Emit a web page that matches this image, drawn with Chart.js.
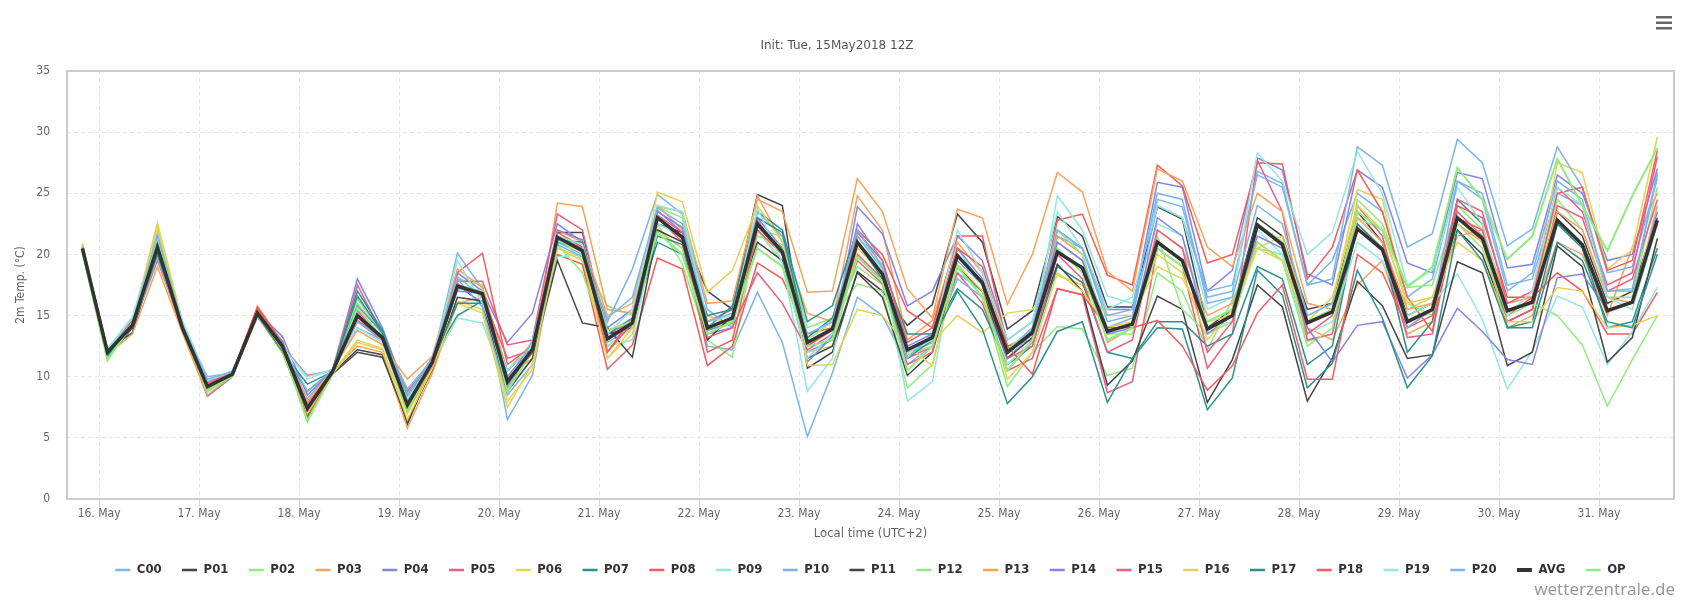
<!DOCTYPE html>
<html>
<head>
<meta charset="utf-8">
<title>2m Temp. ensemble</title>
<script src="https://cdn.jsdelivr.net/npm/chart.js@4.4.1/dist/chart.umd.min.js"></script>
<style>
  html, body { margin: 0; padding: 0; background: #fff; }
  #wrap { width: 1684px; height: 600px; position: relative; }
</style>
</head>
<body>
<div id="wrap"><canvas id="tempChart"></canvas></div>
<script>
// hours after 16 May 00:00 local time (UTC+2), one value every 6 h
const hours = [-4, 2, 8, 14, 20, 26, 32, 38, 44, 50, 56, 62, 68, 74, 80, 86, 92, 98, 104, 110,
  116, 122, 128, 134, 140, 146, 152, 158, 164, 170, 176, 182, 188, 194, 200, 206, 212, 218, 224, 230,
  236, 242, 248, 254, 260, 266, 272, 278, 284, 290, 296, 302, 308, 314, 320, 326, 332, 338, 344, 350,
  356, 362, 368, 374];

const dayTicks = [0, 24, 48, 72, 96, 120, 144, 168, 192, 216, 240, 264, 288, 312, 336, 360];
const dayLabels = ['16. May', '17. May', '18. May', '19. May', '20. May', '21. May', '22. May', '23. May',
  '24. May', '25. May', '26. May', '27. May', '28. May', '29. May', '30. May', '31. May'];

const c00 = [20.6, 12.1, 14.5, 21.5, 14.2, 10.0, 10.3, 15.0, 12.6, 8.2, 10.6, 14.0, 13.0, 8.0, 11.3,
  20.1, 17.2, 6.5, 10.1, 21.0, 20.0, 12.8, 14.0, 22.0, 20.5,
  12.5, 12.2, 16.9, 12.8, 5.1, 10.3, 16.5, 15.0, 11.0, 12.5,
  18.5, 17.0, 10.5, 12.8, 21.5, 20.5, 14.5, 15.0, 24.5, 23.9,
  16.5, 17.0, 26.8, 25.8, 17.5, 19.5, 25.0, 23.5, 16.5, 18.0,
  26.0, 25.0, 17.5, 18.0, 25.0, 24.0, 17.0, 17.2, 26.7];
const p01 = [20.8, 12.2, 13.6, 20.2, 13.8, 9.0, 10.1, 15.0, 12.0, 6.8, 10.3, 12.2, 11.8, 6.1, 11.0,
  17.5, 16.0, 9.2, 12.4, 21.8, 21.8, 13.5, 14.0, 22.5, 21.8,
  17.0, 15.5, 24.9, 24.0, 10.7, 12.0, 18.6, 17.0, 14.2, 15.9,
  23.3, 21.0, 13.9, 15.4, 23.1, 21.5, 15.7, 15.7, 23.9, 22.9,
  14.0, 15.5, 23.0, 21.5, 15.5, 16.0, 23.5, 21.0, 15.0, 16.0,
  22.0, 20.0, 14.5, 15.5, 23.5, 21.5, 16.0, 17.0, 23.0];
const p02 = [20.3, 11.3, 14.4, 21.8, 14.3, 8.8, 10.2, 15.5, 12.4, 6.3, 10.2, 16.0, 13.5, 7.0, 11.5,
  18.0, 17.5, 9.0, 12.0, 21.5, 19.5, 15.8, 15.0, 22.5, 19.2,
  13.0, 11.6, 22.0, 21.5, 14.0, 14.8, 17.6, 17.0, 9.1, 11.0,
  19.0, 16.5, 9.2, 12.0, 14.1, 13.9, 10.1, 10.7, 18.5, 17.0,
  12.2, 16.3, 20.5, 20.0, 12.9, 13.5, 24.5, 22.5, 17.3, 17.5,
  24.0, 22.0, 16.0, 16.5, 24.5, 22.0, 16.5, 16.5, 25.5];
const p03 = [20.4, 11.8, 13.5, 19.0, 13.6, 8.4, 10.0, 15.8, 12.8, 7.0, 10.4, 12.5, 12.0, 5.8, 10.3,
  16.0, 16.5, 10.0, 11.5, 24.2, 23.9, 15.5, 15.2, 24.0, 22.0,
  13.5, 14.5, 24.8, 21.0, 15.2, 14.5, 24.8, 22.0, 13.0, 14.6,
  21.0, 18.5, 12.5, 13.5, 21.5, 20.0, 12.8, 14.0, 22.0, 20.5,
  15.0, 16.0, 21.0, 19.5, 14.0, 13.0, 17.5, 19.5, 13.5, 14.5,
  22.5, 21.0, 14.0, 15.0, 21.0, 20.0, 15.0, 20.6, 25.0];
const p04 = [20.5, 12.0, 14.0, 19.5, 14.0, 8.4, 10.0, 15.3, 13.3, 8.5, 10.5, 18.0, 14.0, 8.5, 11.6,
  18.5, 17.0, 12.8, 15.2, 22.5, 21.0, 14.0, 15.5, 23.5, 22.2,
  13.5, 14.0, 23.0, 20.5, 12.0, 13.0, 23.9, 21.7, 15.8, 17.0,
  21.5, 19.5, 13.0, 14.5, 22.0, 20.5, 15.5, 15.5, 25.9, 25.5,
  17.0, 18.7, 27.9, 26.9, 18.4, 17.5, 26.9, 25.5, 19.3, 18.5,
  26.7, 26.2, 18.9, 19.2, 26.5, 25.0, 19.5, 20.0, 27.0];
const p05 = [20.6, 12.3, 14.6, 21.0, 14.4, 9.5, 10.3, 15.4, 12.5, 10.1, 10.5, 17.5, 13.5, 7.5, 11.2,
  17.8, 17.8, 12.6, 13.0, 23.3, 22.0, 13.5, 14.5, 23.0, 21.0,
  14.5, 15.5, 22.8, 20.0, 12.5, 14.0, 20.0, 18.0, 11.5, 12.5,
  18.5, 16.0, 10.5, 11.5, 17.2, 16.7, 8.7, 9.6, 20.5, 19.0,
  10.7, 13.5, 27.7, 23.5, 13.0, 13.5, 22.5, 20.5, 13.2, 13.5,
  23.5, 21.5, 14.5, 15.5, 24.0, 23.0, 17.0, 18.0, 24.5];
const p06 = [20.9, 12.0, 14.4, 22.6, 14.5, 9.4, 10.2, 15.0, 12.2, 7.2, 10.3, 13.0, 12.3, 7.0, 10.8,
  16.2, 15.5, 8.0, 10.6, 20.5, 19.5, 11.5, 13.5, 22.0, 20.5,
  15.0, 14.2, 22.0, 19.5, 12.0, 12.5, 20.5, 18.5, 11.8, 12.8,
  15.0, 13.6, 15.2, 15.5, 18.3, 17.5, 15.0, 15.0, 19.0, 18.0,
  14.5, 15.0, 20.5, 21.5, 15.0, 16.0, 25.3, 24.5, 15.5, 16.5,
  23.0, 21.0, 15.5, 16.0, 27.5, 26.7, 18.8, 20.4, 29.6];
const p07 = [20.2, 11.6, 14.0, 20.0, 13.8, 9.3, 10.4, 15.0, 12.0, 9.4, 10.4, 17.0, 13.8, 8.2, 11.5,
  15.0, 16.2, 9.5, 12.0, 21.0, 20.5, 13.0, 14.5, 21.0, 20.0,
  14.0, 15.8, 23.5, 22.0, 14.5, 15.8, 22.0, 19.0, 13.5, 13.5,
  17.2, 15.5, 11.0, 12.5, 19.0, 17.7, 12.0, 11.5, 14.5, 14.5,
  12.5, 13.5, 19.0, 18.0, 11.0, 12.5, 22.5, 20.5, 12.0, 14.5,
  24.5, 22.5, 14.0, 14.5, 22.5, 20.5, 14.0, 14.5, 20.5];
const p08 = [20.5, 12.1, 14.6, 21.2, 14.0, 9.6, 10.3, 15.7, 12.8, 7.8, 10.5, 14.5, 13.0, 8.8, 11.3,
  18.5, 20.1, 11.0, 12.5, 20.0, 19.2, 10.6, 12.6, 19.7, 18.8,
  10.9, 12.5, 19.3, 18.0, 13.5, 14.0, 22.0, 20.0, 15.4, 14.0,
  21.5, 21.5, 12.5, 13.0, 22.8, 23.3, 18.3, 17.5, 27.3, 25.6,
  19.3, 20.0, 27.5, 27.4, 18.0, 20.6, 26.9, 23.5, 16.5, 13.7,
  24.0, 23.0, 16.5, 16.5, 18.5, 17.0, 13.5, 13.5, 16.9];
const p09 = [20.4, 12.3, 14.9, 21.7, 14.6, 9.8, 10.4, 15.2, 12.4, 10.0, 10.6, 14.0, 12.8, 7.2, 11.0,
  14.8, 14.4, 9.0, 11.5, 19.8, 20.0, 12.5, 13.0, 22.5, 21.5,
  13.8, 14.5, 22.0, 19.3, 8.8, 11.5, 21.5, 19.2, 8.0, 9.6,
  20.5, 17.5, 11.0, 13.0, 24.8, 22.0, 16.6, 16.0, 22.5, 21.5,
  14.0, 14.5, 22.0, 20.0, 13.5, 14.5, 21.0, 19.5, 15.0, 16.0,
  18.4, 14.7, 9.0, 12.1, 16.6, 15.7, 11.0, 13.7, 17.3];
const p10 = [20.7, 11.9, 14.3, 20.8, 14.1, 9.6, 10.5, 14.9, 12.6, 7.0, 10.3, 15.2, 13.2, 9.0, 11.4,
  18.0, 15.7, 8.5, 11.0, 21.0, 20.5, 14.5, 18.8, 24.9, 23.3,
  15.5, 14.0, 23.5, 21.5, 12.5, 13.0, 21.5, 18.8, 12.0, 12.8,
  18.0, 16.5, 11.5, 13.5, 21.0, 19.5, 14.0, 14.8, 24.0, 23.0,
  17.0, 17.5, 26.5, 25.5, 17.5, 18.0, 28.8, 27.3, 20.6, 21.7,
  29.4, 27.5, 20.7, 22.1, 28.8, 25.5, 18.5, 19.0, 26.2];
const p11 = [20.6, 11.8, 14.0, 20.4, 13.8, 9.0, 10.1, 14.9, 12.2, 6.6, 10.2, 12.0, 11.6, 6.4, 10.6,
  16.5, 16.2, 8.8, 11.5, 19.5, 14.4, 14.0, 11.6, 22.0, 21.0,
  13.0, 15.0, 21.0, 19.5, 11.5, 12.5, 18.5, 16.5, 10.1, 12.0,
  19.0, 17.0, 11.5, 13.2, 19.2, 17.0, 9.3, 11.3, 16.6, 15.5,
  7.9, 11.4, 17.5, 15.7, 8.0, 11.5, 17.8, 15.8, 11.5, 11.8,
  19.4, 18.5, 10.9, 12.0, 20.7, 19.0, 11.2, 13.2, 21.3];
const p12 = [20.3, 11.5, 14.2, 20.6, 14.2, 9.0, 10.0, 15.3, 12.3, 6.5, 10.3, 16.4, 13.4, 7.5, 11.4,
  17.5, 17.0, 9.8, 12.2, 20.8, 18.5, 12.5, 14.0, 23.9, 23.0,
  14.2, 14.6, 21.5, 20.8, 13.0, 14.5, 19.0, 17.5, 11.8, 12.5,
  20.0, 17.8, 12.2, 14.0, 22.0, 20.0, 13.5, 13.5, 21.5, 15.5,
  13.5, 14.5, 21.0, 19.5, 12.5, 14.0, 23.0, 22.0, 16.0, 15.0,
  22.5, 20.5, 15.0, 16.0, 15.0, 12.6, 7.6, 11.4, 15.0];
const p13 = [20.5, 12.0, 14.1, 19.8, 13.7, 8.5, 10.1, 15.4, 12.7, 8.0, 10.6, 13.8, 12.6, 9.8, 11.7,
  18.8, 17.3, 10.5, 12.8, 22.0, 21.0, 15.0, 16.0, 23.9, 23.5,
  16.0, 16.2, 24.5, 23.5, 16.9, 17.0, 26.2, 23.5, 17.2, 14.8,
  23.7, 23.0, 15.9, 20.0, 26.7, 25.1, 18.6, 17.0, 27.0, 26.0,
  20.6, 19.0, 25.0, 23.5, 16.0, 15.5, 23.0, 21.0, 15.5, 16.0,
  21.5, 22.0, 16.0, 16.5, 23.5, 22.0, 16.5, 16.0, 24.0];
const p14 = [20.4, 11.9, 14.2, 20.2, 14.0, 9.2, 10.2, 15.1, 12.9, 7.6, 10.4, 15.8, 13.6, 7.8, 11.4,
  17.0, 16.8, 10.0, 12.5, 22.0, 21.2, 13.0, 14.2, 23.6, 21.8,
  13.8, 14.4, 22.3, 20.2, 11.2, 13.3, 22.5, 19.5, 12.5, 13.5,
  20.5, 18.0, 12.0, 13.8, 21.0, 19.5, 13.5, 14.0, 23.0, 21.5,
  13.5, 15.0, 21.5, 20.5, 14.0, 11.2, 14.2, 14.5, 9.9, 11.8,
  15.6, 13.7, 11.4, 11.0, 18.1, 18.4, 15.5, 16.0, 23.5];
const p15 = [20.6, 12.2, 14.4, 21.4, 14.3, 9.4, 10.3, 15.2, 12.6, 7.2, 10.4, 14.6, 13.2, 7.4, 11.1,
  17.6, 16.6, 11.5, 12.2, 21.5, 20.5, 12.0, 14.4, 23.2, 21.8,
  13.2, 14.0, 18.5, 16.0, 12.2, 13.5, 19.5, 17.6, 11.0, 12.0,
  20.0, 17.5, 11.5, 12.5, 20.0, 18.0, 12.0, 13.0, 22.0, 20.5,
  12.0, 14.5, 22.5, 21.0, 13.5, 15.0, 24.0, 21.5, 14.0, 15.5,
  24.5, 23.5, 16.0, 17.0, 25.5, 23.5, 17.5, 18.5, 28.0];
const p16 = [20.7, 12.0, 14.3, 22.2, 14.4, 9.1, 10.0, 14.9, 12.0, 7.0, 10.2, 12.8, 12.2, 6.5, 10.7,
  16.0, 15.2, 7.5, 11.0, 20.5, 19.8, 11.5, 14.0, 25.1, 24.3,
  16.9, 18.7, 24.0, 21.0, 10.9, 11.0, 15.5, 15.0, 12.5, 10.9,
  19.2, 17.0, 9.8, 12.0, 18.5, 17.0, 14.0, 14.5, 20.0, 18.5,
  13.0, 15.5, 20.5, 19.5, 14.5, 16.5, 24.0, 22.0, 16.0, 16.5,
  21.0, 19.5, 14.5, 14.5, 17.3, 17.0, 14.0, 14.2, 15.0];
const p17 = [20.3, 11.7, 14.1, 20.0, 13.9, 9.1, 10.2, 15.0, 12.1, 8.8, 10.5, 16.6, 13.6, 7.6, 11.2,
  16.0, 16.0, 10.5, 12.4, 21.2, 21.0, 13.5, 14.8, 21.5, 20.8,
  15.0, 15.5, 23.0, 21.8, 13.2, 14.8, 21.0, 18.0, 11.5, 13.0,
  17.0, 13.9, 7.8, 10.0, 13.7, 14.5, 7.9, 11.5, 14.0, 13.9,
  7.3, 9.9, 18.7, 16.7, 9.1, 11.1, 18.7, 14.8, 9.1, 11.7,
  22.0, 19.5, 14.0, 14.0, 21.0, 19.5, 14.5, 14.0, 20.0];
const p18 = [20.4, 12.0, 14.3, 20.8, 14.1, 9.3, 10.3, 15.6, 12.7, 6.6, 10.4, 15.4, 13.2, 7.2, 11.0,
  17.2, 17.0, 9.2, 12.0, 21.8, 20.6, 12.0, 14.8, 23.0, 21.5,
  12.0, 13.0, 22.0, 20.0, 12.5, 13.8, 21.8, 19.5, 12.8, 14.0,
  20.5, 19.0, 12.5, 10.2, 17.2, 16.7, 14.0, 14.0, 14.6, 12.5,
  8.9, 10.9, 15.2, 17.5, 9.8, 9.8, 20.0, 18.5, 14.0, 15.0,
  23.0, 22.0, 15.0, 16.5, 25.0, 25.5, 18.7, 19.5, 28.5];
const p19 = [20.5, 12.2, 14.8, 21.2, 14.5, 9.7, 10.4, 15.1, 12.5, 9.8, 10.6, 15.0, 13.0, 8.2, 11.3,
  19.5, 16.0, 10.5, 12.5, 21.5, 20.8, 13.5, 15.5, 24.0, 23.5,
  14.5, 15.0, 23.8, 19.3, 11.5, 13.5, 21.0, 18.8, 12.0, 13.0,
  22.0, 18.5, 13.0, 14.5, 23.5, 20.5, 15.5, 16.5, 24.0, 23.0,
  15.5, 16.5, 28.3, 26.0, 20.0, 21.8, 28.4, 25.0, 17.5, 18.7,
  25.5, 22.5, 15.0, 17.0, 25.5, 24.0, 16.5, 15.5, 22.5];
const p20 = [20.6, 12.1, 14.4, 21.6, 14.2, 9.8, 10.4, 15.0, 12.4, 8.8, 10.5, 14.5, 13.1, 8.6, 11.5,
  18.2, 16.5, 9.0, 13.0, 20.8, 19.8, 14.8, 16.5, 23.8, 22.5,
  14.5, 15.2, 22.5, 20.0, 13.5, 14.5, 22.0, 19.0, 11.5, 13.5,
  19.5, 17.5, 12.0, 14.0, 22.0, 20.5, 15.0, 15.5, 25.0, 24.5,
  16.0, 16.5, 24.0, 22.5, 15.0, 16.0, 22.0, 20.5, 14.0, 15.5,
  26.0, 24.5, 17.0, 18.5, 26.0, 24.5, 17.0, 17.0, 26.5];
const avg = [20.5, 12.0, 14.2, 20.6, 14.0, 9.2, 10.2, 15.2, 12.5, 7.4, 10.4, 15.0, 13.2, 7.7, 11.2,
  17.4, 16.8, 9.6, 12.2, 21.4, 20.3, 13.1, 14.4, 23.0, 21.4,
  14.0, 14.8, 22.5, 20.2, 12.8, 13.9, 21.0, 18.4, 12.2, 13.2,
  19.9, 17.7, 12.0, 13.6, 20.2, 18.9, 13.7, 14.3, 21.0, 19.5,
  13.9, 15.0, 22.4, 20.8, 14.4, 15.3, 22.1, 20.4, 14.5, 15.5,
  23.0, 21.3, 15.4, 16.1, 22.8, 20.8, 15.4, 16.1, 22.8];
const op = [20.2, 11.4, 14.3, 21.0, 14.0, 8.8, 10.1, 15.2, 12.3, 6.4, 10.2, 15.6, 13.2, 7.2, 11.2,
  17.2, 17.0, 8.8, 12.2, 21.2, 20.2, 13.8, 14.5, 21.8, 20.0,
  13.5, 14.5, 20.5, 19.0, 12.5, 13.0, 19.8, 17.8, 10.5, 12.5,
  19.0, 16.5, 10.5, 13.0, 20.5, 18.5, 13.0, 14.0, 20.5, 19.0,
  14.5, 15.5, 22.5, 21.0, 14.5, 15.5, 23.5, 22.0, 17.3, 19.0,
  27.1, 24.5, 19.6, 21.5, 27.8, 24.0, 20.3, 24.8, 28.7];

const seriesNames = ['C00', 'P01', 'P02', 'P03', 'P04', 'P05', 'P06', 'P07', 'P08', 'P09', 'P10',
  'P11', 'P12', 'P13', 'P14', 'P15', 'P16', 'P17', 'P18', 'P19', 'P20', 'AVG', 'OP'];
const seriesValues = [c00, p01, p02, p03, p04, p05, p06, p07, p08, p09, p10,
  p11, p12, p13, p14, p15, p16, p17, p18, p19, p20, avg, op];

const palette = ['#7cb5ec', '#434348', '#90ed7d', '#f7a35c', '#8085e9',
  '#f15c80', '#e4d354', '#2b908f', '#f45b5b', '#91e8e1'];

const condensed = '"DejaVu Sans Condensed", "DejaVu Sans", sans-serif';

const datasets = seriesNames.map((name, i) => {
  const isAvg = name === 'AVG';
  const isOp = name === 'OP';
  const color = isAvg ? '#333333' : (isOp ? '#90ed7d' : palette[i % 10]);
  return {
    label: name,
    data: hours.map((h, k) => ({ x: h, y: seriesValues[i][k] })),
    borderColor: color,
    backgroundColor: color,
    borderWidth: isAvg ? 3.5 : (isOp ? 2 : 1.5),
    pointRadius: 0,
    tension: 0,
    fill: false,
    order: isAvg ? 0 : (isOp ? 1 : 30 - i)
  };
});

const plotFrame = {
  id: 'plotFrame',
  beforeDatasetsDraw(chart) {
    const { ctx, chartArea: a } = chart;
    ctx.save();
    ctx.strokeStyle = '#cccccc';
    ctx.lineWidth = 2;
    ctx.strokeRect(a.left, a.top, a.right - a.left, a.bottom - a.top);
    ctx.restore();
  }
};

const extras = {
  id: 'extras',
  afterDraw(chart) {
    const ctx = chart.ctx;
    ctx.save();
    // menu button
    ctx.fillStyle = '#666666';
    [16, 21.5, 27].forEach(y => ctx.fillRect(1656, y, 16, 2.5));
    // credits
    ctx.font = '17px "Noto Sans", sans-serif';
    ctx.fillStyle = '#999999';
    ctx.textAlign = 'right';
    ctx.textBaseline = 'alphabetic';
    ctx.fillText('wetterzentrale.de', 1675, 595);
    ctx.restore();
  }
};

window.addEventListener('DOMContentLoaded', () => {
  const tempChart = document.getElementById('tempChart');

  new Chart(tempChart, {
    type: 'line',
    data: { datasets },
    plugins: [plotFrame, extras],
    options: {
      responsive: true,
      maintainAspectRatio: false,
      animation: false,
      events: [],
      layout: { padding: { left: 0, right: 10, top: 0, bottom: 13.6 } },
      scales: {
        x: {
          type: 'linear',
          min: -7.7,
          max: 378,
          afterBuildTicks: scale => { scale.ticks = dayTicks.map(v => ({ value: v })); },
          afterFit: scale => { scale.height = 44; },
          ticks: {
            autoSkip: false,
            maxRotation: 0,
            padding: 0,
            color: '#666666',
            font: { family: condensed, size: 12 },
            callback: (value, index) => dayLabels[index]
          },
          grid: { color: '#e6e6e6', tickColor: '#ccd6eb', tickLength: 8, lineWidth: 1 },
          border: { display: false, dash: [4, 3] },
          title: {
            display: true,
            text: 'Local time (UTC+2)',
            color: '#666666',
            font: { family: condensed, size: 13 },
            padding: { top: 0, bottom: 2 }
          }
        },
        y: {
          min: 0,
          max: 35,
          afterFit: scale => { scale.width = 67; },
          ticks: {
            stepSize: 5,
            padding: 17,
            color: '#666666',
            font: { family: condensed, size: 12 }
          },
          grid: { color: '#e6e6e6', drawTicks: false, lineWidth: 1 },
          border: { display: false, dash: [4, 3] },
          title: {
            display: true,
            text: '2m Temp. (°C)',
            color: '#666666',
            font: { family: condensed, size: 12 },
            padding: { top: 14, bottom: 0 }
          }
        }
      },
      plugins: {
        title: {
          display: true,
          text: 'Init: Tue, 15May2018 12Z',
          color: '#555555',
          font: { family: '"DejaVu Sans", sans-serif', size: 12, weight: 'normal' },
          padding: { top: 39, bottom: 17.6 }
        },
        legend: {
          position: 'bottom',
          fullSize: false,
          maxHeight: 60,
          labels: {
            usePointStyle: true,
            pointStyle: 'line',
            pointStyleWidth: 15,
            padding: 20.4,
            color: '#333333',
            font: { family: condensed, size: 13, weight: 'bold' },
            sort: (a, b) => a.datasetIndex - b.datasetIndex,
            generateLabels: chart => Chart.defaults.plugins.legend.labels.generateLabels(chart)
              .map(item => Object.assign(item, { lineWidth: item.text === 'AVG' ? 4 : 2.5 }))
          }
        },
        tooltip: { enabled: false }
      }
    }
  });
});
</script>
</body>
</html>
